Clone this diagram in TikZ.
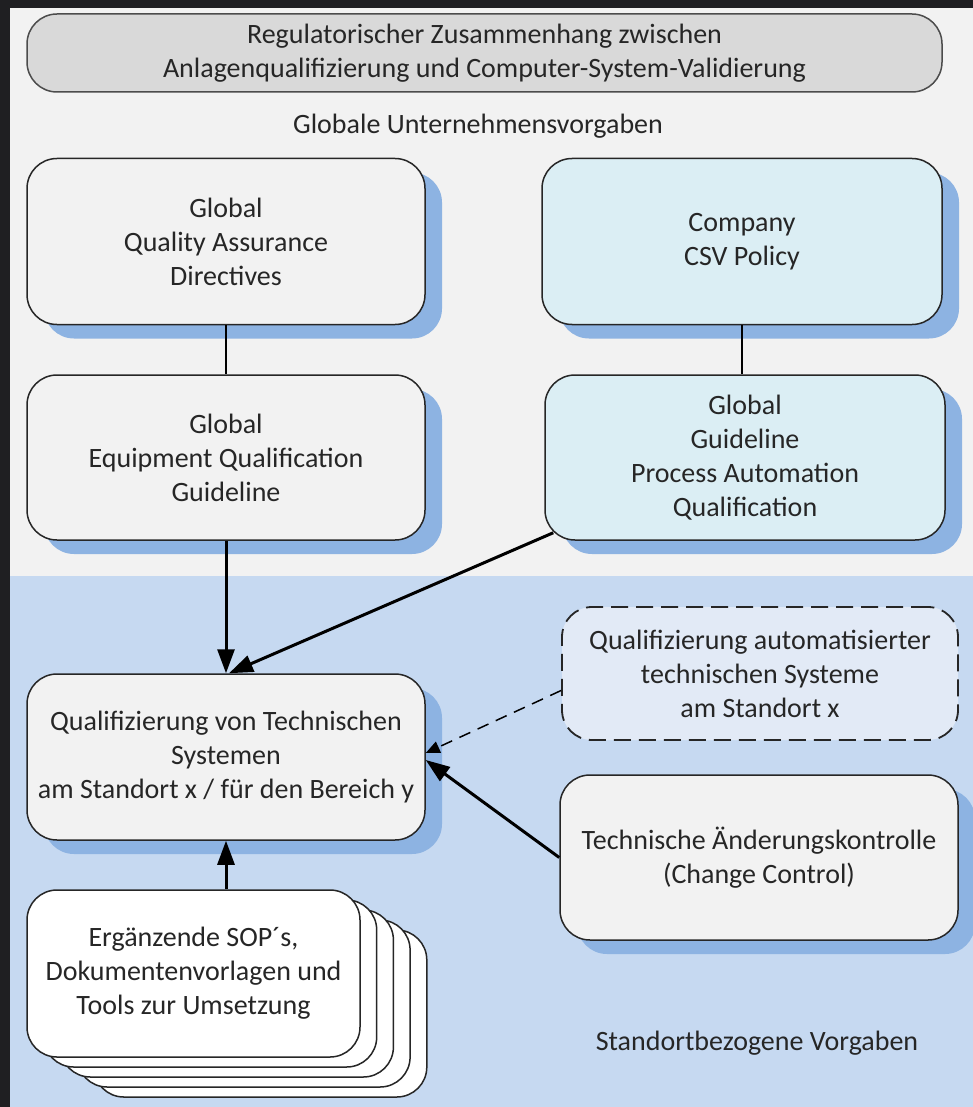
\documentclass[tikz,border=0pt]{standalone}
\usepackage{fontspec}
\setmainfont{Carlito}
\usetikzlibrary{arrows.meta,shadows}

\definecolor{darkframe}{HTML}{1F1F22}
\definecolor{greyback}{HTML}{F2F2F2}
\definecolor{blueback}{HTML}{C6D9F1}
\definecolor{shadowblue}{HTML}{8DB3E2}
\definecolor{titlegrey}{HTML}{D9D9D9}
\definecolor{csvcyan}{HTML}{DBEEF4}
\definecolor{sitelight}{HTML}{E2EAF6}
\definecolor{inktext}{HTML}{262626}

\tikzset{
  every node/.style={font=\fontsize{28}{34}\selectfont, text=inktext},
  rule/.style={draw=black!85, line width=1.5pt, rounded corners=30pt, align=center,
    minimum width=398pt, minimum height=166pt, inner sep=0pt},
  rulebox/.style={rule, fill=greyback,
    drop shadow={shadow xshift=17pt, shadow yshift=-14pt, fill=shadowblue, opacity=1}},
  docpage/.style={rule, fill=white, minimum width=333pt, minimum height=167pt},
  flow/.style={line width=3pt, -{Triangle[length=24pt,width=17pt]}},
}

\begin{document}
\begin{tikzpicture}[x=1pt,y=-1pt]

\fill[darkframe] (0,0) rectangle (973,1107);
\fill[greyback] (10,8) rectangle (973,576);
\fill[blueback] (10,576) rectangle (973,1107);

\node [rule, fill=titlegrey, draw=black!70, minimum width=915pt, minimum height=78pt]
  (title) at (484.5,53) {Regulatorischer Zusammenhang zwischen\\Anlagenqualifizierung und Computer-System-Validierung};
\node (global) at (478,126) {Globale Unternehmensvorgaben};

\node [rulebox] (gqa) at (226,241.5) {Global\\Quality Assurance\\Directives};
\node [rulebox, fill=csvcyan, minimum width=400pt] (csv) at (742,241.5) {Company\\CSV Policy};
\node [rulebox, minimum height=165pt] (geq) at (226,457.5) {Global\\Equipment Qualification\\Guideline};
\node [rulebox, fill=csvcyan, minimum width=400pt, minimum height=165pt] (gpaq) at (745,457.5)
  {Global\\Guideline\\Process Automation\\Qualification};

\node [rulebox] (qts) at (226,757) {Qualifizierung von Technischen\\Systemen\\am Standort x / für den Bereich y};
\node [rule, fill=sitelight, line width=1.8pt, dash pattern=on 17pt off 8pt, minimum width=396pt, minimum height=133pt]
  (qat) at (760,673.5) {Qualifizierung automatisierter\\technischen Systeme\\am Standort x};
\node [rulebox, minimum height=165pt] (taek) at (759,857.5) {Technische Änderungskontrolle\\(Change Control)};

% stacked documents, back to front
\foreach \k in {4,3,2,1} {
  \node [docpage] (doc\k) at (193.5+16.7*\k,973.5+10*\k) {};
}
\node [docpage] (docs) at (193.5,973.5) {Ergänzende SOP´s,\\Dokumentenvorlagen und\\Tools zur Umsetzung};

\node (site) at (757,1043) {Standortbezogene Vorgaben};

\draw [line width=1.5pt] (gqa) -- (geq);
\draw [line width=1.5pt] (csv.south) -- (csv.south |- gpaq.north);
\draw [flow] (geq) -- (qts);
\draw [flow] ([xshift=9pt,yshift=8pt]gpaq.south west) -- ([xshift=3pt]qts.north);
\draw [line width=1.5pt, dash pattern=on 12pt off 8pt, -{Triangle[length=14pt,width=12pt]}]
  ([yshift=-17pt]qat.west) -- ([yshift=4pt]qts.east);
\draw [flow] (taek.west) -- ([yshift=-3pt]qts.east);
\draw [flow] (qts.south |- docs.north) -- (qts.south);

\end{tikzpicture}
\end{document}
